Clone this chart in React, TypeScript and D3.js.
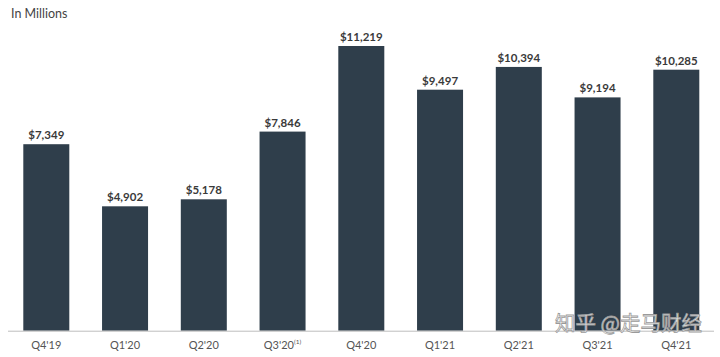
import React from "react";
import * as d3 from "d3";

const categories = ["Q4'19", "Q1'20", "Q2'20", "Q3'20", "Q4'20", "Q1'21", "Q2'21", "Q3'21", "Q4'21"];
const superscripts = ["", "", "", "(1)", "", "", "", "", ""];
const values = [7349, 4902, 5178, 7846, 11219, 9497, 10394, 9194, 10285];

const W = 720;
const H = 357;
const font = "Lato, 'Open Sans', sans-serif";

export default function App() {
  const x = d3
    .scaleBand<string>()
    .domain(categories)
    .range([23.3, 699.3])
    .paddingInner(262 / 630)
    .paddingOuter(0);
  const bw = x.bandwidth();
  const y = d3.scaleLinear().domain([0, 11219]).range([330.7, 46]);
  const fmt = d3.format(",");

  return (
    <svg
      width={W}
      height={H}
      style={{ position: "absolute", left: 0, top: 0, background: "#fff" }}
      fontFamily={font}
    >
      <text x={11} y={18} fontSize={12.5} fill="#444">In Millions</text>
      {categories.map((c, i) => {
        const cx = (x(c) as number) + bw / 2;
        return (
          <g key={c}>
            <rect
              x={x(c)}
              y={y(values[i])}
              width={bw}
              height={y(0) - y(values[i])}
              fill="#2f3e4b"
            />
            <text
              x={cx}
              y={y(values[i]) - 5}
              textAnchor="middle"
              fontSize={11.5}
              fontWeight="bold"
              fill="#3a3a3a"
            >
              ${fmt(values[i])}
            </text>
            <text x={cx} y={349} textAnchor="middle" fontSize={11} fill="#555">
              {c}
              {superscripts[i] && (
                <tspan fontSize={6.5} dy={-5}>{superscripts[i]}</tspan>
              )}
            </text>
          </g>
        );
      })}
      <line x1={8} x2={714} y1={y(0) + 0.5} y2={y(0) + 0.5} stroke="#bdbdbd" strokeWidth={1} />
      <text
        x={702}
        y={331}
        textAnchor="end"
        fontSize={20.5}
        fontFamily="'Noto Sans CJK SC', sans-serif"
        fill="#ffffff"
        fillOpacity={0.85}
        stroke="#9a9a9a"
        strokeWidth={0.8}
      >
        知乎 @走马财经
      </text>
    </svg>
  );
}
